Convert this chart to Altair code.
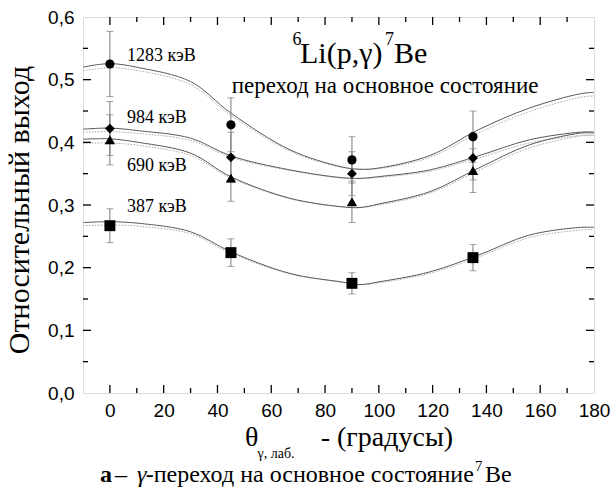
import altair as alt
import pandas as pd

# ---------------- data ----------------
angles = [0, 45, 90, 135]
series_names = ["1283", "984", "690", "387"]
shapes = ["circle", "diamond", "triangle-up", "square"]
sizes = [85, 120, 95, 115]

y_1283 = [0.525, 0.428, 0.372, 0.409]
e_1283 = [0.052, 0.043, 0.037, 0.041]
y_984 = [0.422, 0.376, 0.350, 0.375]
e_984 = [0.043, 0.040, 0.035, 0.035]
y_690 = [0.404, 0.343, 0.305, 0.355]
e_690 = [0.040, 0.037, 0.033, 0.035]
y_387 = [0.267, 0.224, 0.175, 0.216]
e_387 = [0.027, 0.022, 0.017, 0.021]

curve_theta = [-10, 0, 11, 30, 45, 67, 86, 93, 100, 119, 137, 156, 175, 180]
fit_1283 = [0.520, 0.5256, 0.519, 0.497, 0.4467, 0.388, 0.361, 0.357, 0.359, 0.379, 0.420, 0.4547, 0.4776, 0.4797]
fit_984 = [0.421, 0.4227, 0.4184, 0.4067, 0.3784, 0.356, 0.3437, 0.3425, 0.3453, 0.356, 0.3784, 0.404, 0.4163, 0.4165]
fit_690 = [0.405, 0.4056, 0.3997, 0.3827, 0.345, 0.3107, 0.2973, 0.296, 0.3016, 0.3213, 0.3587, 0.396, 0.4147, 0.415]
fit_387 = [0.272, 0.2733, 0.2707, 0.2573, 0.2253, 0.1907, 0.1773, 0.173, 0.1773, 0.1933, 0.220, 0.252, 0.2643, 0.2643]

alt_1283 = [0.514, 0.519, 0.514, 0.492, 0.443, 0.386, 0.360, 0.357, 0.358, 0.376, 0.415, 0.449, 0.472, 0.474]
alt_984 = [0.416, 0.417, 0.414, 0.403, 0.376, 0.355, 0.343, 0.342, 0.344, 0.354, 0.375, 0.399, 0.411, 0.412]
alt_690 = [0.398, 0.399, 0.395, 0.379, 0.343, 0.310, 0.297, 0.296, 0.300, 0.319, 0.355, 0.391, 0.410, 0.411]
alt_387 = [0.267, 0.268, 0.266, 0.254, 0.223, 0.190, 0.177, 0.173, 0.176, 0.191, 0.217, 0.248, 0.260, 0.261]

x_labels = [0, 20, 40, 60, 80, 100, 120, 140, 160, 180]
y_labels = [0.0, 0.1, 0.2, 0.3, 0.4, 0.5, 0.6]
x_major = [0, 20, 40, 60, 80, 100, 120, 140, 160]
x_minor = [10, 30, 50, 70, 90, 110, 130, 150, 170]
y_major = [0.1, 0.2, 0.3, 0.4, 0.5]
y_minor = [0.05, 0.15, 0.25, 0.35, 0.45, 0.55]

W, H = 511, 376
SANS = "Liberation Sans"
SERIF = "Liberation Serif"

# ---------------- tables ----------------
ys = [y_1283, y_984, y_690, y_387]
es = [e_1283, e_984, e_690, e_387]
pts = pd.DataFrame([
    {"s": n, "theta": a, "v": v, "lo": v - e, "hi": v + e}
    for n, yv, ev in zip(series_names, ys, es)
    for a, v, e in zip(angles, yv, ev)
])
fits = [fit_1283, fit_984, fit_690, fit_387]
alts = [alt_1283, alt_984, alt_690, alt_387]
solid = pd.DataFrame([
    {"s": n, "theta": t, "v": v}
    for n, f in zip(series_names, fits) for t, v in zip(curve_theta, f)
])
dotted = pd.DataFrame([
    {"s": n, "theta": t, "v": v}
    for n, f in zip(series_names, alts) for t, v in zip(curve_theta, f)
])

xs = alt.Scale(domain=[-10, 180], nice=False, zero=False)
yscale = alt.Scale(domain=[0, 0.6], nice=False, zero=False)

x_axis = alt.Axis(values=x_labels, title=None, ticks=False, domain=False, grid=False,
                  labelFont=SANS, labelFontSize=19, labelColor="black", labelPadding=8,
                  labelFlush=False, labelOverlap=False)
y_axis = alt.Axis(values=y_labels, title=None, ticks=False, domain=False, grid=False,
                  labelFont=SANS, labelFontSize=19, labelColor="black", labelPadding=9,
                  labelExpr="replace(format(datum.value, '.1f'), '.', ',')",
                  labelFlush=False, labelOverlap=False)


def X(field="theta"):
    return alt.X(f"{field}:Q", scale=xs, axis=x_axis)


def Y(field="v"):
    return alt.Y(f"{field}:Q", scale=yscale, axis=y_axis)


dotted_layer = alt.Chart(dotted).mark_line(
    color="#a8a8a8", strokeWidth=1, strokeDash=[1.5, 1.5], interpolate="catmull-rom"
).encode(x=X(), y=Y(), detail="s:N")

solid_layer = alt.Chart(solid).mark_line(
    color="#5a5a5a", strokeWidth=1, interpolate="catmull-rom"
).encode(x=X(), y=Y(), detail="s:N")

err_layer = alt.Chart(pts).mark_rule(color="#7a7a7a", strokeWidth=1).encode(
    x=X(), y=Y("lo"), y2="hi:Q")
cap_lo = alt.Chart(pts).mark_tick(color="#7a7a7a", thickness=1, size=7, orient="horizontal").encode(
    x=X(), y=Y("lo"))
cap_hi = alt.Chart(pts).mark_tick(color="#7a7a7a", thickness=1, size=7, orient="horizontal").encode(
    x=X(), y=Y("hi"))

point_layer = alt.Chart(pts).mark_point(filled=True, color="black", opacity=1).encode(
    x=X(), y=Y(),
    shape=alt.Shape("s:N", scale=alt.Scale(domain=series_names, range=shapes), legend=None),
    size=alt.Size("s:N", scale=alt.Scale(domain=series_names, range=sizes), legend=None),
)


def yticks(vals, length):
    df = pd.DataFrame({"v": vals})
    left = alt.Chart(df).mark_rule(color="black", strokeWidth=1.3).encode(
        y=Y(), x=alt.value(0), x2=alt.value(length))
    right = alt.Chart(df).mark_rule(color="black", strokeWidth=1.3).encode(
        y=Y(), x=alt.value(W - length), x2=alt.value(W))
    return [left, right]


def xticks(vals, length):
    df = pd.DataFrame({"theta": vals})
    bottom = alt.Chart(df).mark_rule(color="black", strokeWidth=1.3).encode(
        x=X(), y=alt.value(H - length), y2=alt.value(H))
    top = alt.Chart(df).mark_rule(color="black", strokeWidth=1.3).encode(
        x=X(), y=alt.value(0), y2=alt.value(length))
    return [bottom, top]


tick_layers = yticks(y_major, 8) + yticks(y_minor, 5) + xticks(x_major, 8) + xticks(x_minor, 5)


def label(text, x, y, size, font=SERIF, weight="normal", style="normal",
          align="left", baseline="alphabetic", angle=0):
    return alt.Chart(pd.DataFrame({"t": [text]})).mark_text(
        font=font, fontSize=size, fontWeight=weight, fontStyle=style,
        align=align, baseline=baseline, angle=angle, color="black"
    ).encode(x=alt.value(x), y=alt.value(y), text="t:N")


energy_text = ["1283 кэВ", "984  кэВ", "690  кэВ", "387  кэВ"]
energy_y = [38.5, 100.5, 148.5, 189.5]

texts = [label(t, 44, yy, 18, baseline="middle") for t, yy in zip(energy_text, energy_y)]
texts += [
    label("6", 209.5, 28, 18),
    label("Li(p,γ)", 217, 45.7, 30),
    label("7", 302, 28, 18),
    label("Be", 311, 45.7, 30),
    label("переход на основное состояние", 148.7, 75.7, 23),
    label("Относительный выход", -63, 193, 30, angle=270, align="center", baseline="middle"),
    label("θ", 162, 429, 28),
    label("γ, лаб.", 174.5, 441, 14),
    label("- (градусы)", 237.7, 429, 28),
    label("а", 17, 464.7, 24, weight="bold"),
    label("–", 32, 464.7, 24),
    label("γ", 54, 464.7, 24, style="italic"),
    label("-переход на основное состояние", 62.7, 464.7, 24),
    label("7", 392, 454, 15),
    label("Be", 402, 464.7, 24),
]

chart = alt.layer(
    dotted_layer, solid_layer, err_layer, cap_lo, cap_hi, point_layer,
    *tick_layers, *texts
).properties(
    width=W, height=H,
    autosize=alt.AutoSizeParams(type="none"),
    padding={"left": 83, "top": 17, "right": 18, "bottom": 101},
).configure_view(
    stroke="black", strokeWidth=1.5
).configure(background="white")

chart.save("out.html", embed_options={"renderer": "svg", "actions": False})
